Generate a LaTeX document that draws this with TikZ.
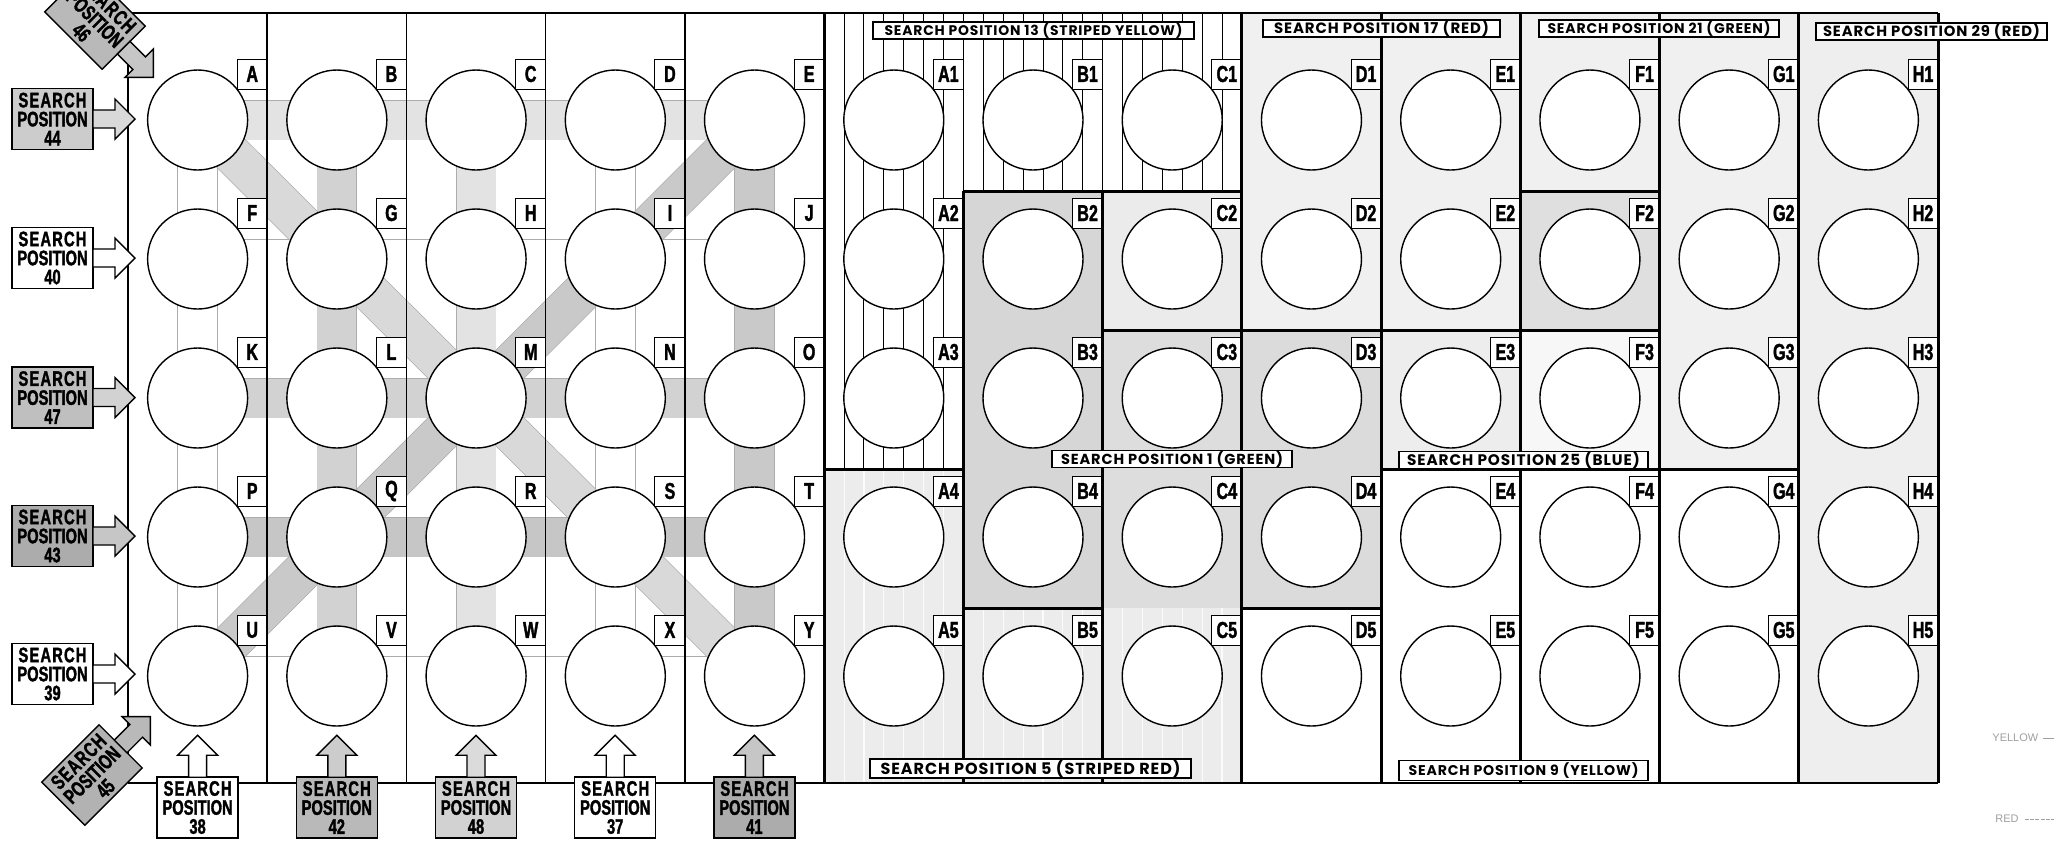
\documentclass[tikz,border=0pt]{standalone}
\usepackage{fontspec}
\usetikzlibrary{backgrounds}
\newfontfamily\gothic[FakeStretch=0.7, FakeBold=1.6]{Liberation Sans Bold}
\newfontfamily\futura[LetterSpace=6]{Poppins}
\newfontfamily\legendfont{Liberation Sans}
\newcommand\SPtext[1]{\makebox[34pt][s]{S\hfill E\hfill A\hfill R\hfill C\hfill H}\\POSITION\\#1}
\newcommand\SPArrow[4]{%
  \begin{scope}[shift={(#1.center)}, rotate=#2]
    \draw[sparrow, fill=#4] (#3,9) -- ++(22,0) -- ++(0,11) -- ++(20,-20) -- ++(-20,-20) -- ++(0,11) -- ++(-22,0) -- cycle;
  \end{scope}}
\newcommand\TopLab[2]{\resizebox{#1}{!}{\futura\bfseries #2}}
\tikzset{
  cell/.style={circle, draw, fill=white, line width=0.7pt, minimum size=50pt, inner sep=0pt},
  lab/.style={rectangle, draw, fill=white, line width=0.5pt, minimum width=15pt, minimum height=15pt, inner sep=0pt, font=\gothic\fontsize{11.5}{11.5}\selectfont},
  band/.style={line width=0.35pt, draw=gray!65, double=#1, double distance=19.5pt},
  gridline/.style={line width=0.8pt},
  heavy/.style={line width=1.5pt},
  stripe/.style={line width=0.5pt},
  redstripe/.style={line width=0.6pt, white, opacity=0.8},
  spbox/.style={rectangle, draw, line width=0.7pt, minimum width=40.5pt, minimum height=30.5pt, inner sep=0pt, align=center, font=\gothic\fontsize{10.5}{9.5}\selectfont},
  sparrow/.style={line width=0.7pt, line join=miter},
  toplab/.style={rectangle, draw, fill=white, line width=0.7pt, inner sep=0pt, minimum height=8.5pt},
  legend/.style={font=\legendfont\fontsize{5.5}{6}\selectfont, text=gray!75, inner sep=0pt, anchor=west},
}
\begin{document}
\begin{tikzpicture}[x=0.5pt, y=-0.5pt]
\useasboundingbox (0,0) rectangle (2054,843);
\clip (0,0) rectangle (2054,843);

% ---------- circles and letter labels, left grid ----------
\foreach \L [count=\n from 0] in {A,B,C,D,E,F,G,H,I,J,K,L,M,N,O,P,Q,R,S,T,U,V,W,X,Y}{
  \pgfmathtruncatemacro\c{mod(\n,5)}
  \pgfmathtruncatemacro\r{div(\n,5)}
  \node[cell] (\L) at ({128+(\c+0.5)*139.23},{120+\r*139}) {};
  \node[lab] (l\L) at ({128+(\c+1)*139.23-15},{120+\r*139-46}) {\L};
}
% ---------- circles and labels, right grid ----------
\foreach \C [count=\c from 0] in {A,B,C,D,E,F,G,H}{
  \foreach \r in {1,...,5}{
    \node[cell] (\C\r) at ({128+(\c+5.5)*139.23},{120+(\r-1)*139}) {};
    \node[lab] (l\C\r) at ({128+(\c+6)*139.23-15},{120+(\r-1)*139-46}) {\C\r};
  }
}

\begin{pgfonlayer}{background}
  \fill[white] (0,0) rectangle (2054,843);
  % cell shading of the right grid
  \foreach \c/\ya/\yb/\sh in {0/469/783/gray!15, 1/608/783/gray!15, 2/608/783/gray!15,
      1/191/608/gray!32, 2/191/330/gray!16, 2/330/608/gray!27,
      3/13/330/gray!12, 3/330/608/gray!28, 4/13/330/gray!12, 4/330/469/gray!14,
      5/13/191/gray!12, 5/191/330/gray!25, 5/330/469/gray!6,
      6/13/469/gray!12, 7/13/783/gray!13}{
    \fill[\sh] ({128+(5+\c)*139.23},\ya) rectangle ({128+(6+\c)*139.23},\yb);
  }
  % striped yellow
  \foreach \k in {0,...,21}{
    \pgfmathsetmacro\yb{\k<7 ? 469 : 191}
    \draw[stripe] ({824.2+\k*19.89},13) -- ({824.2+\k*19.89},\yb);
  }
  % striped red
  \foreach \k in {1,...,20}{
    \pgfmathsetmacro\ya{\k<7 ? 469 : 608}
    \draw[redstripe] ({824.2+\k*19.89},\ya) -- ({824.2+\k*19.89},783);
  }
  % white search paths
  \draw[band=white] (A.center) -- (U.center);
  \draw[band=white] (D.center) -- (X.center);
  \draw[band=white] (F.center) -- (J.center);
  \draw[band=white] (U.center) -- (Y.center);
  % shaded search paths
  \draw[band=gray!22] (A.center) -- (E.center);
  \draw[band=gray!22] (C.center) -- (W.center);
  \draw[band=gray!35] (B.center) -- (V.center);
  \draw[band=gray!35] (K.center) -- (O.center);
  \draw[band=gray!30] (A.center) -- (Y.center);
  \draw[band=gray!42] (E.center) -- (Y.center);
  \draw[band=gray!45] (P.center) -- (T.center);
  \draw[band=gray!42] (U.center) -- (E.center);
\end{pgfonlayer}

% ---------- grid lines ----------
\foreach \i in {0,...,4}{
  \draw[gridline] ({128+\i*139.23},13) -- ({128+\i*139.23},783);
}
\draw[gridline] (128,13) -- (1938,13);
\draw[gridline] (128,783) -- (1938,783);
\draw[heavy] (824.2,13) -- (824.2,783);
\draw[heavy] (963.4,191) -- (963.4,783);
\draw[heavy] (1102.6,191) -- (1102.6,783);
\foreach \i in {8,...,13}{
  \draw[heavy] ({128+\i*139.23},13) -- ({128+\i*139.23},783);
}
\draw[heavy] (963.4,191) -- (1241.9,191);
\draw[heavy] (1520.3,191) -- (1659.5,191);
\draw[heavy] (1102.6,330) -- (1659.5,330);
\draw[heavy] (824.2,469) -- (963.4,469);
\draw[heavy] (1381.1,469) -- (1798.8,469);
\draw[heavy] (963.4,608) -- (1102.6,608);
\draw[heavy] (1241.9,608) -- (1381.1,608);

% ---------- search position labels in the right grid ----------
\node[toplab, minimum width=160.5pt] (sp13) at (1033.5,30.5) {\TopLab{149pt}{SEARCH POSITION 13 (STRIPED YELLOW)}};
\node[toplab, minimum width=118.5pt] (sp17) at (1381.5,28.5) {\TopLab{107.5pt}{SEARCH POSITION 17 (RED)}};
\node[toplab, minimum width=120pt] (sp21) at (1659,28.5) {\TopLab{111.5pt}{SEARCH POSITION 21 (GREEN)}};
\node[toplab, minimum width=115.5pt] (sp29) at (1931.5,31.5) {\TopLab{108.5pt}{SEARCH POSITION 29 (RED)}};
\node[toplab, minimum width=120pt] (sp1) at (1172,459) {\TopLab{111pt}{SEARCH POSITION 1 (GREEN)}};
\node[toplab, minimum width=124.5pt] (sp25) at (1523.5,460) {\TopLab{116.5pt}{SEARCH POSITION 25 (BLUE)}};
\node[toplab, minimum width=160.5pt, minimum height=9.5pt] (sp5) at (1030.5,768.5) {\TopLab{150pt}{SEARCH POSITION 5 (STRIPED RED)}};
\node[toplab, minimum width=124.5pt, minimum height=10pt] (sp9) at (1523.5,770.5) {\TopLab{115pt}{SEARCH POSITION 9 (YELLOW)}};

% ---------- search position boxes with arrows ----------
\node[spbox, fill=gray!40] (b44) at (52.5,119) {\SPtext{44}};
\SPArrow{b44}{0}{40.5}{gray!30}
\node[spbox, fill=white] (b40) at (52.5,258) {\SPtext{40}};
\SPArrow{b40}{0}{40.5}{white}
\node[spbox, fill=gray!50] (b47) at (52.5,397.5) {\SPtext{47}};
\SPArrow{b47}{0}{40.5}{gray!35}
\node[spbox, fill=gray!65] (b43) at (52.5,536) {\SPtext{43}};
\SPArrow{b43}{0}{40.5}{gray!45}
\node[spbox, fill=white] (b39) at (52.5,674) {\SPtext{39}};
\SPArrow{b39}{0}{40.5}{white}

\node[spbox, fill=gray!55, rotate=-45] (b46) at (95,19) {\SPtext{46}};
\SPArrow{b46}{-45}{40.5}{gray!45}
\node[spbox, fill=gray!60, rotate=45] (b45) at (92,775) {\SPtext{45}};
\SPArrow{b45}{45}{40.5}{gray!55}

\node[spbox, fill=white] (b38) at (197.6,807.5) {\SPtext{38}};
\SPArrow{b38}{90}{30.25}{white}
\node[spbox, fill=gray!55] (b42) at (336.8,807.5) {\SPtext{42}};
\SPArrow{b42}{90}{30.25}{gray!40}
\node[spbox, fill=gray!35] (b48) at (476,807.5) {\SPtext{48}};
\SPArrow{b48}{90}{30.25}{gray!28}
\node[spbox, fill=white] (b37) at (615.2,807.5) {\SPtext{37}};
\SPArrow{b37}{90}{30.25}{white}
\node[spbox, fill=gray!65] (b41) at (754.4,807.5) {\SPtext{41}};
\SPArrow{b41}{90}{30.25}{gray!45}

% ---------- legend at the right edge ----------
\node[legend] (ly) at (1992,738) {YELLOW};
\coordinate (lye) at (2054,738);
\draw[gray!75, line width=0.4pt] ([xshift=2pt]ly.east) -- (lye);
\node[legend] (lr) at (1995,819) {RED};
\coordinate (lre) at (2054,819);
\draw[gray!75, line width=0.4pt, dash pattern=on 2pt off 0.6pt] ([xshift=3pt]lr.east) -- (lre);
\end{tikzpicture}
\end{document}
